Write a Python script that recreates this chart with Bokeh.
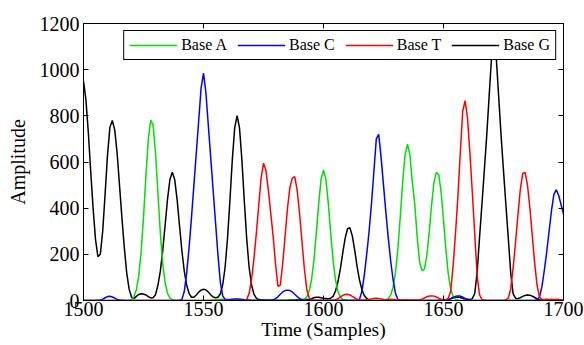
from bokeh.plotting import figure
from bokeh.models import Range1d, LinearAxis, FixedTicker, Legend, LegendItem
from bokeh.embed import file_html
from bokeh.resources import INLINE

# ---- data (sample index starts at 1500, one value per sample) ----
x_start = 1500

base_a = [
    0, 0, 0, 0, 0, 0, 0, 0, 0, 0,                      # 1500
    0, 0, 0, 0, 0, 0, 0, 0, 0, 0,                      # 1510
    3, 17, 46, 105, 209, 360, 539, 697, 782, 760,      # 1520
    640, 467, 295, 161, 77, 31, 11, 3, 0, 0,           # 1530
    0, 0, 0, 0, 0, 0, 0, 0, 0, 0,                      # 1540
    0, 0, 0, 1, 2, 3, 4, 5, 5, 4,                      # 1550
    4, 3, 3, 4, 5, 5, 4, 3, 2, 1,                      # 1560
    0, 0, 0, 0, 0, 0, 0, 0, 0, 0,                      # 1570
    0, 0, 0, 0, 0, 0, 0, 0, 0, 0,                      # 1580
    1, 2, 5, 15, 40, 89, 173, 291, 421, 526,           # 1590
    566, 526, 421, 291, 173, 89, 40, 15, 5, 2,         # 1600
    1, 0, 0, 0, 0, 0, 0, 0, 0, 0,                      # 1610
    0, 0, 0, 0, 0, 0, 3, 8, 24, 58,                    # 1620
    122, 226, 365, 515, 632, 677, 632, 515, 420, 280,  # 1630
    170, 130, 135, 190, 290, 410, 510, 556, 545, 470,  # 1640
    350, 220, 115, 50, 18, 6, 2, 0, 0, 0,              # 1650
    0, 0, 0, 0, 0, 0, 0, 0, 0, 0,                      # 1660
    0, 0, 0, 0, 0, 0, 0, 0, 0, 0,                      # 1670
    0, 0, 0, 0, 0, 0, 0, 0, 0, 0,                      # 1680
    0, 0, 0, 0, 0, 0, 0, 0, 0, 0,                      # 1690
    0,                                                 # 1700
]

base_c = [
    0, 0, 0, 0, 0, 0, 1, 2, 6, 12,                     # 1500
    17, 18, 15, 10, 5, 2, 1, 0, 0, 0,                  # 1510
    0, 0, 0, 0, 0, 0, 0, 0, 0, 0,                      # 1520
    0, 0, 0, 0, 0, 0, 0, 0, 0, 0,                      # 1530
    1, 5, 40, 120, 230, 360, 500, 640, 780, 920,       # 1540
    985, 900, 760, 620, 480, 340, 200, 80, 20, 5,      # 1550
    3, 4, 5, 6, 6, 5, 4, 3, 2, 2,                      # 1560
    1, 1, 1, 1, 1, 1, 1, 1, 1, 3,                      # 1570
    8, 16, 27, 37, 43, 45, 43, 37, 27, 17,             # 1580
    9, 4, 2, 1, 1, 1, 1, 1, 1, 1,                      # 1590
    1, 1, 1, 1, 1, 1, 1, 1, 1, 1,                      # 1600
    1, 1, 1, 1, 1, 5, 40, 110, 200, 300,               # 1610
    420, 560, 700, 720, 620, 500, 380, 270, 170, 90,   # 1620
    30, 5, 1, 0, 0, 0, 0, 0, 0, 0,                     # 1630
    0, 0, 0, 0, 0, 0, 0, 0, 0, 0,                      # 1640
    1, 2, 3, 8, 14, 18, 20, 19, 15, 9,                 # 1650
    4, 1, 0, 0, 0, 0, 0, 0, 0, 0,                      # 1660
    0, 0, 0, 0, 0, 0, 0, 0, 0, 0,                      # 1670
    0, 0, 0, 0, 0, 0, 0, 0, 0, 3,                      # 1680
    15, 60, 130, 210, 300, 390, 460, 480, 455, 415,    # 1690
    375,                                               # 1700
]

base_t = [
    0, 0, 0, 0, 0, 0, 0, 0, 0, 0,                      # 1500
    0, 0, 0, 0, 0, 0, 0, 0, 0, 0,                      # 1510
    0, 0, 0, 0, 0, 0, 0, 0, 0, 0,                      # 1520
    0, 0, 0, 0, 0, 0, 0, 0, 0, 0,                      # 1530
    0, 0, 0, 0, 0, 0, 0, 0, 0, 0,                      # 1540
    0, 0, 0, 0, 0, 0, 0, 0, 0, 0,                      # 1550
    0, 0, 0, 0, 0, 0, 0, 1, 5, 30,                     # 1560
    90, 180, 290, 410, 530, 595, 565, 480, 380, 280,   # 1570
    160, 62, 66, 160, 280, 400, 490, 530, 537, 480,    # 1580
    380, 260, 140, 50, 12, 3, 1, 0, 0, 0,              # 1590
    0, 0, 0, 0, 0, 3, 8, 15, 22, 26,                   # 1600
    27, 24, 18, 11, 6, 3, 2, 2, 3, 4,                  # 1610
    7, 9, 10, 9, 7, 4, 3, 4, 5, 4,                     # 1620
    3, 2, 2, 2, 3, 3, 2, 2, 2, 2,                      # 1630
    3, 6, 11, 16, 19, 20, 19, 15, 10, 6,               # 1640
    3, 2, 10, 40, 150, 290, 450, 640, 820, 866,        # 1650
    790, 640, 470, 290, 110, 25, 5, 2, 0, 0,           # 1660
    0, 0, 0, 0, 0, 0, 3, 10, 50, 140,                  # 1670
    250, 370, 480, 550, 555, 500, 400, 280, 160, 65,   # 1680
    15, 5, 4, 6, 4, 5, 3, 5, 4, 3,                     # 1690
    2,                                                 # 1700
]

base_g = [
    950, 870, 730, 560, 400, 265, 190, 200, 300, 460,  # 1500
    630, 750, 780, 740, 640, 500, 360, 230, 120, 50,   # 1510
    15, 8, 18, 26, 29, 28, 24, 17, 11, 12,             # 1520
    25, 66, 126, 215, 325, 438, 524, 556, 524, 438,    # 1530
    325, 215, 126, 66, 30, 14, 14, 24, 36, 45,         # 1540
    49, 46, 37, 25, 15, 12, 14, 28, 68, 144,           # 1550
    268, 432, 609, 748, 801, 748, 609, 432, 268, 144,  # 1560
    68, 28, 10, 4, 3, 2, 2, 1, 1, 1,                   # 1570
    1, 1, 1, 1, 1, 1, 2, 2, 2, 3,                      # 1580
    3, 3, 4, 4, 4, 8, 12, 14, 14, 12,                  # 1590
    10, 9, 8, 10, 18, 41, 80, 136, 204, 269,           # 1600
    311, 315, 280, 218, 147, 89, 47, 22, 9, 3,         # 1610
    1, 0, 0, 0, 0, 0, 0, 0, 0, 0,                      # 1620
    0, 0, 0, 0, 0, 0, 0, 0, 0, 0,                      # 1630
    0, 0, 0, 0, 0, 0, 0, 0, 1, 1,                      # 1640
    2, 2, 3, 7, 11, 14, 15, 13, 9, 6,                  # 1650
    5, 4, 8, 30, 120, 270, 415, 562, 713, 882,         # 1660
    1050, 1100, 1050, 882, 713, 562, 415, 270, 120, 30,  # 1670
    10, 8, 12, 18, 22, 24, 23, 19, 13, 7,              # 1680
    3, 1, 0, 0, 0, 0, 0, 0, 0, 0,                      # 1690
    0,                                                 # 1700
]

series_labels = ["Base A", "Base C", "Base T", "Base G"]
series_colors = ["#00e000", "#0000ff", "#ff0000", "#000000"]
x_ticks = [1500, 1550, 1600, 1650, 1700]
y_ticks = [0, 200, 400, 600, 800, 1000, 1200]

FONT = "Liberation Serif"

p = figure(width=584, height=345, output_backend="svg", toolbar_location=None,
           x_range=Range1d(1500, 1700), y_range=Range1d(0, 1200),
           x_axis_label="Time (Samples)", y_axis_label="Amplitude",
           min_border_left=83, min_border_right=21, min_border_top=23,
           min_border_bottom=45)
p.xgrid.visible = False
p.ygrid.visible = False
p.outline_line_color = "black"
p.outline_line_alpha = 1.0
p.outline_line_width = 1
p.background_fill_color = "white"
p.border_fill_color = "white"

p.xaxis.ticker = FixedTicker(ticks=x_ticks)
p.yaxis.ticker = FixedTicker(ticks=y_ticks)

for ax in (p.xaxis[0], p.yaxis[0]):
    ax.major_tick_in = 5
    ax.major_tick_out = 0
    ax.minor_tick_line_color = None
    ax.axis_line_color = "black"
    ax.major_tick_line_color = "black"
    ax.major_label_text_font = FONT
    ax.major_label_text_font_size = "20px"
    ax.major_label_text_color = "black"
    ax.axis_label_text_font = FONT
    ax.axis_label_text_font_style = "normal"
    ax.axis_label_text_color = "black"

p.xaxis.major_label_standoff = 1
p.xaxis.axis_label_standoff = 0
p.xaxis.axis_label_text_font_size = "19.5px"
p.yaxis.major_label_standoff = 4
p.yaxis.axis_label_standoff = 8
p.yaxis.axis_label_text_font_size = "20px"

top_ax = LinearAxis(ticker=FixedTicker(ticks=x_ticks))
right_ax = LinearAxis(ticker=FixedTicker(ticks=y_ticks))
for ax in (top_ax, right_ax):
    ax.major_tick_in = 5
    ax.major_tick_out = 0
    ax.minor_tick_line_color = None
    ax.axis_line_color = "black"
    ax.major_tick_line_color = "black"
    ax.major_label_text_font_size = "0px"
    ax.major_label_text_color = None
    ax.major_label_standoff = 0
p.add_layout(top_ax, "above")
p.add_layout(right_ax, "right")

data = {"Base A": base_a, "Base C": base_c, "Base T": base_t, "Base G": base_g}
renderers = {}
# draw order: G first, then A, C, T (red baseline visible on top)
for name in ["Base G", "Base A", "Base C", "Base T"]:
    ys = data[name]
    xs = list(range(x_start, x_start + len(ys)))
    color = series_colors[series_labels.index(name)]
    renderers[name] = p.line(xs, ys, line_color=color, line_width=1.5)

legend = Legend(items=[LegendItem(label=n, renderers=[renderers[n]]) for n in series_labels],
                orientation="horizontal", location="top_right")
legend.margin = 7
legend.padding = 5
legend.spacing = 10
legend.glyph_width = 48
legend.glyph_height = 16
legend.label_height = 16
legend.label_standoff = 4
legend.label_text_font = FONT
legend.label_text_font_size = "16px"
legend.label_text_color = "black"
legend.border_line_color = "black"
legend.border_line_width = 1
legend.border_line_alpha = 1.0
legend.background_fill_color = "white"
legend.background_fill_alpha = 1.0
p.add_layout(legend)

open("out.html", "w").write(file_html(p, INLINE))
